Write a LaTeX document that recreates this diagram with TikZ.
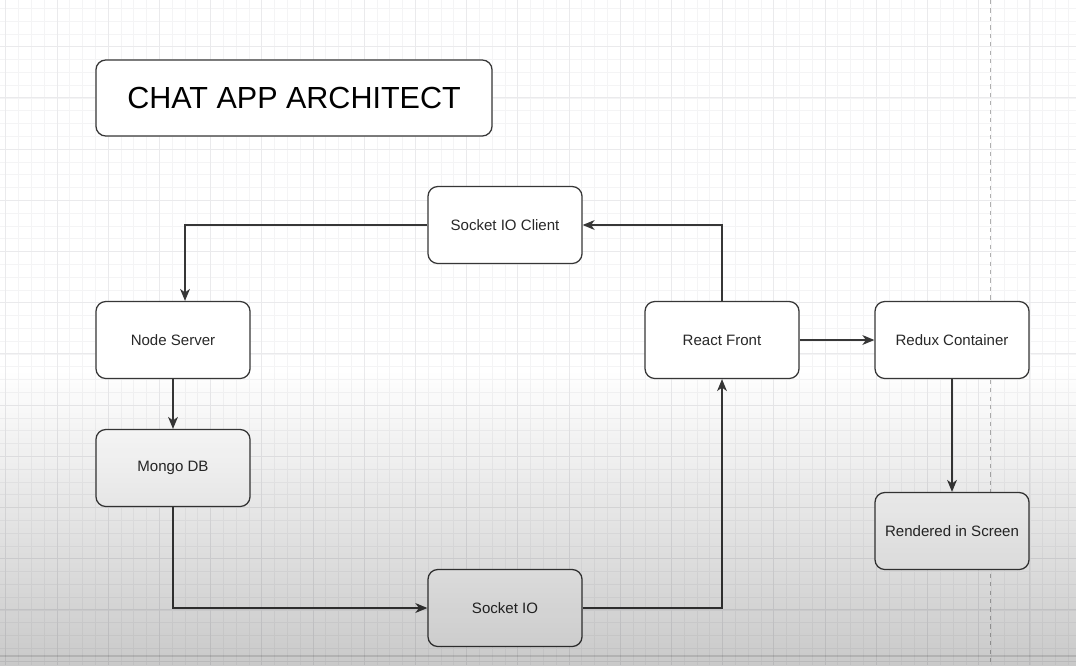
\documentclass[tikz,border=0pt]{standalone}
\usepackage{fontspec}
\setmainfont{Liberation Sans}
\usepackage{tikz}
\usetikzlibrary{arrows.meta, positioning, calc}
\definecolor{app_line}{RGB}{55, 55, 55}
\definecolor{app_text}{RGB}{40, 40, 40}
\definecolor{app_grid}{RGB}{244, 244, 245}
\definecolor{app_major}{RGB}{234, 234, 236}
\definecolor{app_dash}{RGB}{175, 175, 175}

\begin{document}
\begin{tikzpicture}[
        x=0.025cm, y=-0.025cm,
        box/.style={rectangle, rounded corners=7pt,
                    minimum width=3.85cm, minimum height=1.925cm,
                    draw=app_line, line width=0.9pt, fill=white,
                    font=\fontsize{10.7}{12}\selectfont, text=app_text, align=center},
        titlebox/.style={box, minimum width=9.9cm, minimum height=1.9cm,
                    font=\fontsize{21.7}{24}\selectfont, text=black},
        arr/.style={-{Stealth[length=8.5pt, width=7pt, inset=2.5pt]},
                    line width=0.9pt, app_line},
      ]
        \useasboundingbox (0,0) rectangle (1076,665);
        \fill[white] (0,0) rectangle (1076,665);

        \begin{scope}
          \clip (0,0) rectangle (1076,665);
          \foreach \i in {0,...,84}
            \draw[app_grid, line width=0.45pt] ({5.8+12.8*\i},0) -- ++(0,665);
          \foreach \i in {0,...,51}
            \draw[app_grid, line width=0.45pt] (0,{8.3+12.8*\i}) -- ++(1076,0);
          \foreach \i in {0,...,21}
            \draw[app_major, line width=0.7pt] ({5.8+51.2*\i},0) -- ++(0,665);
          \foreach \i in {0,...,13}
            \draw[app_major, line width=0.7pt] (0,{46.7+51.2*\i}) -- ++(1076,0);
          \draw[app_dash, line width=0.7pt, dash pattern=on 3pt off 3pt]
            (990,0) -- (990,665);
        \end{scope}

        \node[titlebox] (title) at (294,98) {CHAT APP ARCHITECT};

        \node[box] (client) at (505,225) {Socket IO Client};
        \node[box] (server) at (173,340) {Node Server};
        \node[box] (mongo)  at (173,468) {Mongo DB};
        \node[box] (socket) at (505,608) {Socket IO};
        \node[box] (react)  at (722,340) {React Front};
        \node[box] (redux)  at (952,340) {Redux Container};
        \node[box] (screen) at (952,531) {Rendered in Screen};

        \draw[arr] (client.west) -| ($(server.north)+(12,0)$);
        \draw[arr] (server) -- (mongo);
        \draw[arr] (mongo.south) |- (socket.west);
        \draw[arr] (socket.east) -| (react.south);
        \draw[arr] (react.north) |- (client.east);
        \draw[arr] (react) -- (redux);
        \draw[arr] (redux) -- (screen);

        \foreach \k [evaluate=\k as \op using 0.21*\k/59] in {0,...,59}
          \fill[black, fill opacity=\op] (0,{368+5*\k}) rectangle (1076,{373+5*\k});
        \draw[black, opacity=0.12, line width=1pt] (0,656) -- (1076,656);
      \end{tikzpicture}
\end{document}
